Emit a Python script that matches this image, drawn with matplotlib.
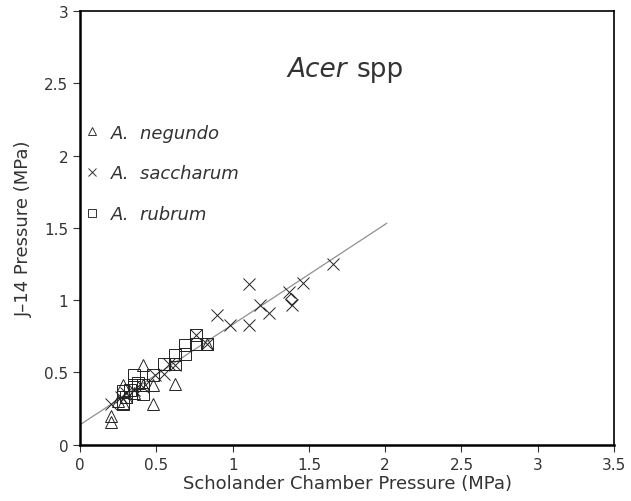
import numpy as np
import matplotlib
matplotlib.use("Agg")
import matplotlib.pyplot as plt
from matplotlib.lines import Line2D

# A. negundo (triangles)
neg_x = [0.20, 0.20, 0.28, 0.41, 0.48, 0.48, 0.62, 0.83, 0.28, 0.41, 0.35, 0.30, 0.25]
neg_y = [0.20, 0.16, 0.41, 0.55, 0.28, 0.41, 0.42, 0.70, 0.29, 0.41, 0.36, 0.33, 0.30]
# A. saccharum (crosses)
sac_x = [0.20, 0.90, 0.98, 1.11, 1.11, 1.18, 1.24, 1.37, 1.39, 1.46, 1.66,
         0.55, 0.62, 0.49, 0.27, 0.35, 0.41, 0.30, 0.76, 0.83, 0.58]
sac_y = [0.28, 0.90, 0.83, 1.11, 0.83, 0.97, 0.91, 1.06, 0.97, 1.12, 1.25,
         0.49, 0.55, 0.48, 0.33, 0.38, 0.40, 0.36, 0.76, 0.70, 0.56]
# A. rubrum (squares)
rub_x = [0.35, 0.35, 0.28, 0.28, 0.41, 0.41, 0.48, 0.55, 0.62, 0.69, 0.69,
         0.76, 0.76, 0.83, 0.62, 0.30, 0.33, 0.38]
rub_y = [0.48, 0.41, 0.37, 0.28, 0.41, 0.35, 0.48, 0.56, 0.62, 0.69, 0.63,
         0.76, 0.70, 0.70, 0.56, 0.33, 0.38, 0.43]
# odd point
dia_x = [1.385]
dia_y = [1.005]

# regression line
fit_intercept = 0.139
fit_slope = 0.693
fit_x = np.array([0.0, 2.01])

fig = plt.figure(figsize=(6.31, 5.02), dpi=100)
ax = fig.add_axes([0.127, 0.112, 0.846, 0.864])

ax.plot(fit_x, fit_intercept + fit_slope * fit_x, color="#909090", lw=0.9, zorder=1)
ms = 9
ax.plot(neg_x, neg_y, "^", mfc="none", mec="#222222", mew=0.7, ms=ms, ls="none")
ax.plot(sac_x, sac_y, "x", color="#222222", mew=0.7, ms=ms, ls="none")
ax.plot(rub_x, rub_y, "s", mfc="none", mec="#222222", mew=0.7, ms=ms, ls="none")
ax.plot(dia_x, dia_y, "D", mfc="none", mec="#222222", mew=0.7, ms=6, ls="none")

ax.set_xlim(0, 3.5)
ax.set_ylim(0, 3)
ax.set_xticks(np.arange(0, 3.51, 0.5))
ax.set_xticklabels(["0", "0.5", "1", "1.5", "2", "2.5", "3", "3.5"])
ax.set_yticks(np.arange(0, 3.01, 0.5))
ax.set_yticklabels(["0", "0.5", "1", "1.5", "2", "2.5", "3"])
ax.tick_params(direction="out", length=5, width=0.8, labelsize=11, colors="#333333")
for s in ["left", "bottom"]:
    ax.spines[s].set_linewidth(1.8)
for s in ["top", "right"]:
    ax.spines[s].set_linewidth(1.2)

ax.set_xlabel("Scholander Chamber Pressure (MPa)", fontsize=13, color="#333333", labelpad=2)
ax.set_ylabel("J\u201314 Pressure (MPa)", fontsize=13, color="#333333", labelpad=8)

ax.text(0.50, 0.866, "Acer", style="italic", fontsize=19, transform=ax.transAxes,
        ha="right", va="center", color="#333333")
ax.text(0.517, 0.866, "spp", fontsize=19, transform=ax.transAxes,
        ha="left", va="center", color="#333333")

handles = [
    Line2D([], [], marker="^", mfc="none", mec="#333333", mew=0.7, ms=6, ls="none"),
    Line2D([], [], marker="x", color="#333333", mew=0.7, ms=6, ls="none"),
    Line2D([], [], marker="s", mfc="none", mec="#333333", mew=0.7, ms=6, ls="none"),
]
labels = ["A.  negundo", "A.  saccharum", "A.  rubrum"]
leg = ax.legend(handles, labels, loc="upper left", bbox_to_anchor=(0.005, 0.74),
                frameon=False, prop={"size": 13, "style": "italic"},
                handletextpad=0.55, labelspacing=1.25, handlelength=1.0,
                borderaxespad=0.0, borderpad=0.0)
for t in leg.get_texts():
    t.set_color("#333333")

fig.savefig("out.png", dpi=100)
